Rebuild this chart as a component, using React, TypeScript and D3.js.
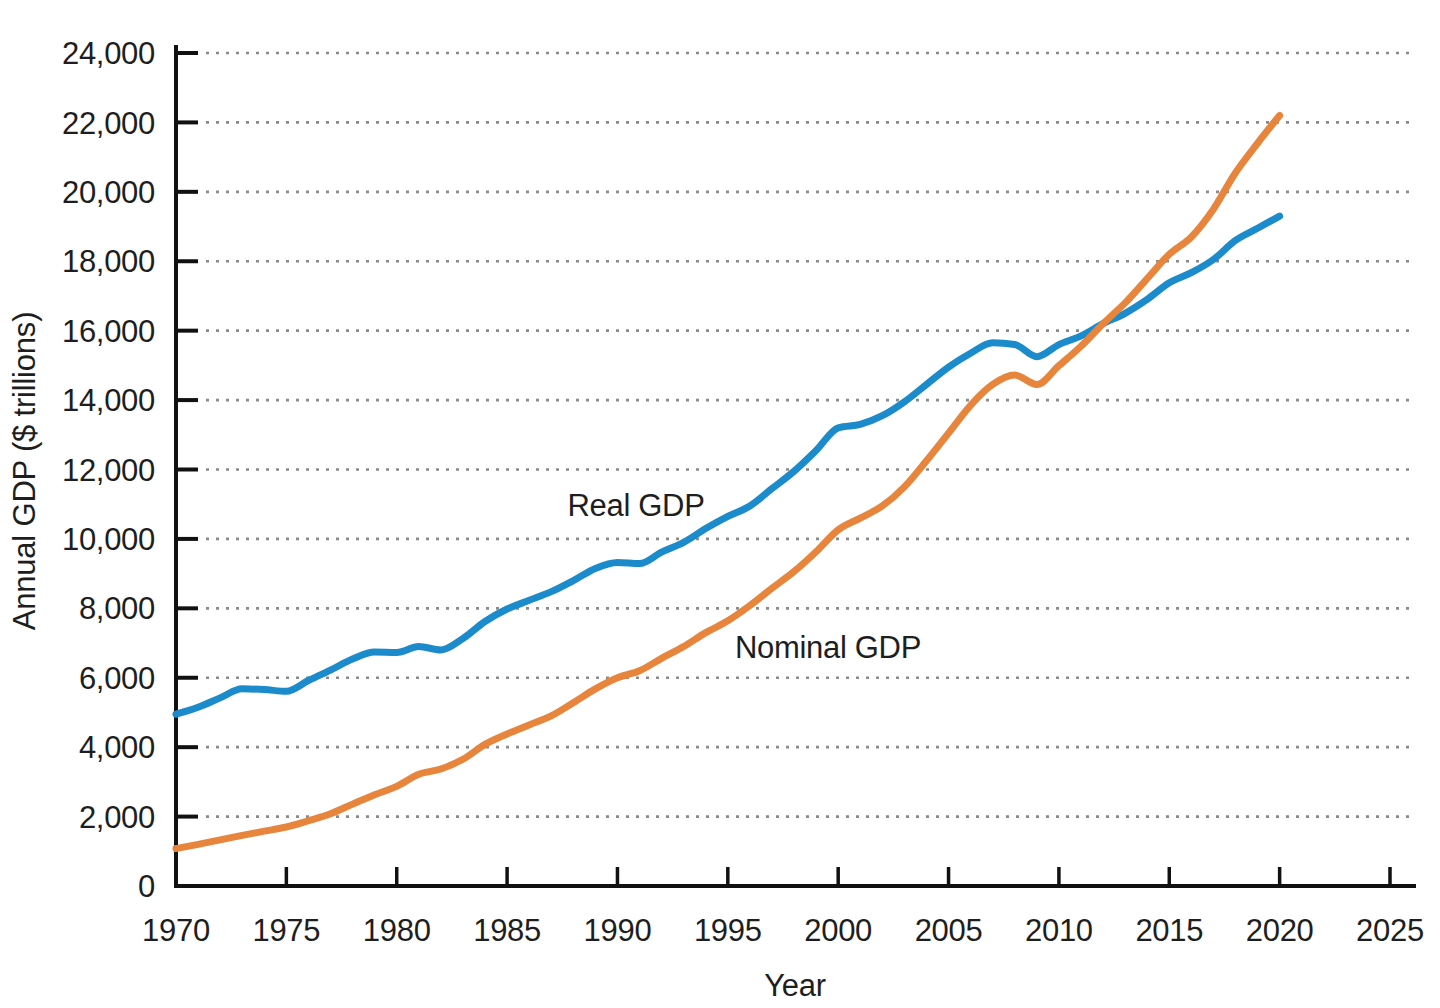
import React from "react";
import * as d3 from "d3";

const years: number[] = [
  1970, 1971, 1972, 1973, 1974, 1975, 1976, 1977, 1978, 1979,
  1980, 1981, 1982, 1983, 1984, 1985, 1986, 1987, 1988, 1989,
  1990, 1991, 1992, 1993, 1994, 1995, 1996, 1997, 1998, 1999,
  2000, 2001, 2002, 2003, 2004, 2005, 2006, 2007, 2008, 2009,
  2010, 2011, 2012, 2013, 2014, 2015, 2016, 2017, 2018, 2019, 2020,
];

const realGDP: number[] = [
  4950, 5150, 5420, 5680, 5660, 5610, 5920, 6220, 6540, 6740,
  6730, 6900, 6800, 7130, 7620, 7980, 8230, 8480, 8800, 9150,
  9320, 9290, 9620, 9900, 10300, 10650, 10950, 11450, 11950, 12550,
  13200, 13300, 13550, 13950, 14450, 14950, 15350, 15650, 15600, 15250,
  15600, 15850, 16200, 16500, 16900, 17380, 17670, 18050, 18600, 18950, 19300,
];

const nominalGDP: number[] = [
  1080, 1200, 1330, 1460, 1580, 1700, 1880, 2080, 2360, 2630,
  2870, 3220, 3370, 3650, 4080, 4380, 4640, 4900, 5280, 5680,
  6000, 6200, 6560, 6900, 7300, 7640, 8080, 8580, 9060, 9630,
  10260, 10600, 10950, 11500, 12250, 13050, 13850, 14450, 14720, 14450,
  14990, 15550, 16200, 16800, 17500, 18200, 18700, 19500, 20550, 21400, 22200,
];

const xTicks: number[] = [1970, 1975, 1980, 1985, 1990, 1995, 2000, 2005, 2010, 2015, 2020, 2025];
const yTicks: number[] = [0, 2000, 4000, 6000, 8000, 10000, 12000, 14000, 16000, 18000, 20000, 22000, 24000];

const W = 1440;
const H = 1008;
const FONT = "'Liberation Sans', Arial, Helvetica, sans-serif";
const FS = 31;
const TXT = "#1e1e1e";

export default function App() {
  const x = d3.scaleLinear().domain([1970, 2025]).range([176, 1390]);
  const y = d3.scaleLinear().domain([0, 24000]).range([886, 53]);
  const fmt = d3.format(",");

  const line = d3
    .line<number>()
    .x((_, i) => x(years[i]))
    .y((d) => y(d))
    .curve(d3.curveMonotoneX);

  return (
    <svg
      width={W}
      height={H}
      style={{ position: "absolute", left: 0, top: 0, background: "#fff" }}
    >
      <rect x={0} y={0} width={W} height={H} fill="#fff" />
      {yTicks.slice(1).map((t) => (
        <line
          key={"g" + t}
          x1={206}
          x2={1415}
          y1={y(t)}
          y2={y(t)}
          stroke="#8a8a8a"
          strokeWidth={2.6}
          strokeDasharray="3 7"
        />
      ))}
      {yTicks.map((t) => (
        <g key={"y" + t}>
          <line x1={176} x2={198} y1={y(t)} y2={y(t)} stroke="#111" strokeWidth={4} />
          <text
            x={155}
            y={y(t)}
            dy="0.36em"
            textAnchor="end"
            fontFamily={FONT}
            fontSize={FS}
            fill={TXT}
            letterSpacing={-0.3}
          >
            {fmt(t)}
          </text>
        </g>
      ))}
      {xTicks.map((t) => (
        <g key={"x" + t}>
          <line x1={x(t)} x2={x(t)} y1={886} y2={867} stroke="#111" strokeWidth={3.5} />
          <text
            x={x(t)}
            y={941}
            textAnchor="middle"
            fontFamily={FONT}
            fontSize={FS}
            fill={TXT}
            letterSpacing={-0.3}
          >
            {t}
          </text>
        </g>
      ))}
      <line x1={176} x2={176} y1={45} y2={888} stroke="#111" strokeWidth={4} />
      <line x1={174} x2={1416} y1={886} y2={886} stroke="#111" strokeWidth={4} />

      <path
        d={line(realGDP) || ""}
        fill="none"
        stroke="#1b8bcb"
        strokeWidth={7}
        strokeLinejoin="round"
        strokeLinecap="round"
      />
      <path
        d={line(nominalGDP) || ""}
        fill="none"
        stroke="#e8853d"
        strokeWidth={7}
        strokeLinejoin="round"
        strokeLinecap="round"
      />

      <text x={636} y={516} textAnchor="middle" fontFamily={FONT} fontSize={FS} fill={TXT} letterSpacing={-0.3}>
        Real GDP
      </text>
      <text x={828} y={658} textAnchor="middle" fontFamily={FONT} fontSize={FS} fill={TXT} letterSpacing={-0.3}>
        Nominal GDP
      </text>
      <text x={795} y={996} textAnchor="middle" fontFamily={FONT} fontSize={FS} fill={TXT} letterSpacing={-0.3}>
        Year
      </text>
      <text
        transform={`translate(35, 471) rotate(-90)`}
        textAnchor="middle"
        fontFamily={FONT}
        fontSize={FS}
        fill={TXT}
        letterSpacing={-0.2}
      >
        Annual GDP ($ trillions)
      </text>
    </svg>
  );
}
